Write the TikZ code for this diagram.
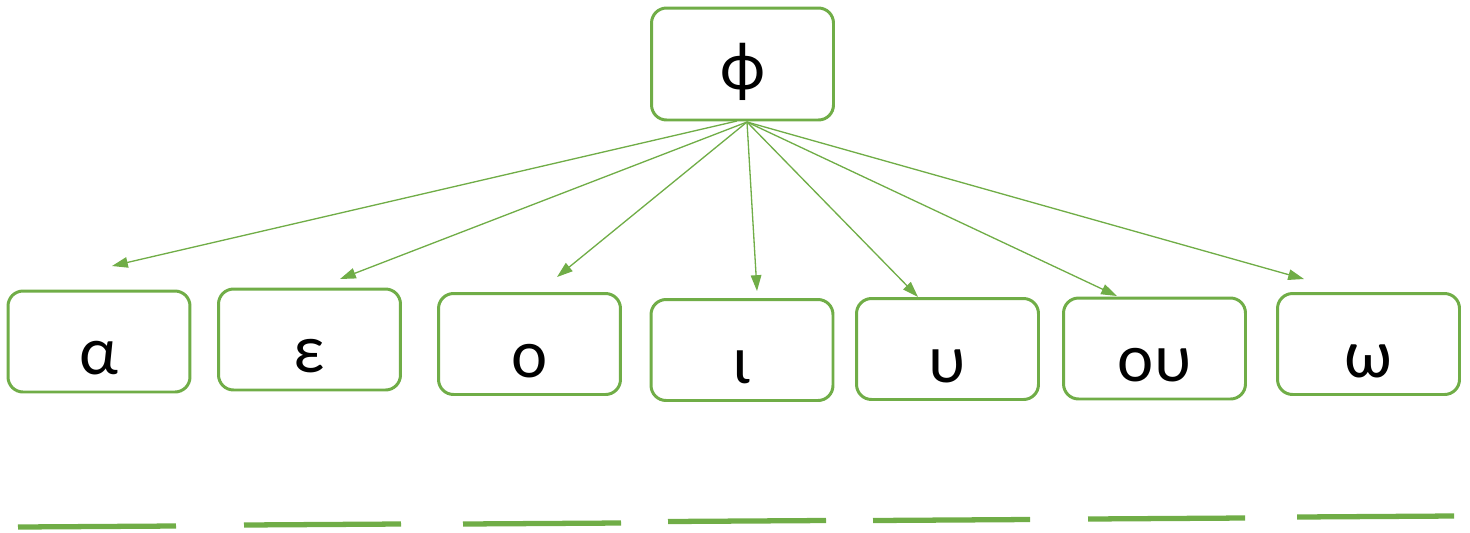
\documentclass[tikz,border=0pt]{standalone}
\usepackage{fontspec}
\setmainfont{Carlito}
\usetikzlibrary{arrows, arrows.meta}
\usetikzlibrary{calc}
\definecolor{leaf}{HTML}{70AD47}
\tikzset{
  vowel/.style={draw=leaf, line width=1.7pt, rounded corners=3mm, fill=white,
    minimum width=3.64cm, minimum height=2.02cm, inner sep=0pt,
    font=\fontsize{39}{41}\selectfont, text height=38pt, text depth=0pt},
  link/.style={draw=leaf, line width=0.75pt, -{Triangle[length=9pt, width=6pt]}},
  rule/.style={draw=leaf, line width=3pt}
}
\begin{document}
\begin{tikzpicture}[x=0.02cm, y=-0.02cm]
    \useasboundingbox (0,0) rectangle (1470,532);

    \node[vowel, minimum height=2.24cm, text depth=8.5pt] (phi) at (742.5,64) {ϕ};

    \node[vowel] (a) at (99,341.5) {α};
    \node[vowel] (e) at (309.5,339.5) {ε};
    \node[vowel] (o) at (529.5,344) {ο};
    \node[vowel] (i) at (742,350) {ι};
    \node[vowel] (u) at (947.5,349) {υ};
    \node[vowel] (ou) at (1154.5,348.5) {ου};
    \node[vowel] (w) at (1368.5,344) {ω};

    % arrow roots under the top box
    \coordinate (phiL) at (737,121);
    \coordinate (phiR) at (747,122);

    % free ends above the boxes
    \coordinate (ta) at (112,266);
    \coordinate (te) at (340,279);
    \coordinate (to) at (557,277);
    \coordinate (ti) at (757,291);
    \coordinate (tu) at (918,297);
    \coordinate (tou) at (1117,296);
    \coordinate (tw) at (1304,279);

    \draw[link] (phiL) -- (ta);
    \foreach \t in {te, to, ti, tu, tou, tw}
      \draw[link] (phiR) -- (\t);

    % blanks
    \draw[rule] (18,527) -- (176,526);
    \draw[rule] (244,525) -- (401,524);
    \draw[rule] (463,524) -- (621,523);
    \draw[rule] (668,521.5) -- (826,520.5);
    \draw[rule] (873,520.5) -- (1030,519.5);
    \draw[rule] (1088,519) -- (1245,518);
    \draw[rule] (1297,517) -- (1454,516);
\end{tikzpicture}
\end{document}
